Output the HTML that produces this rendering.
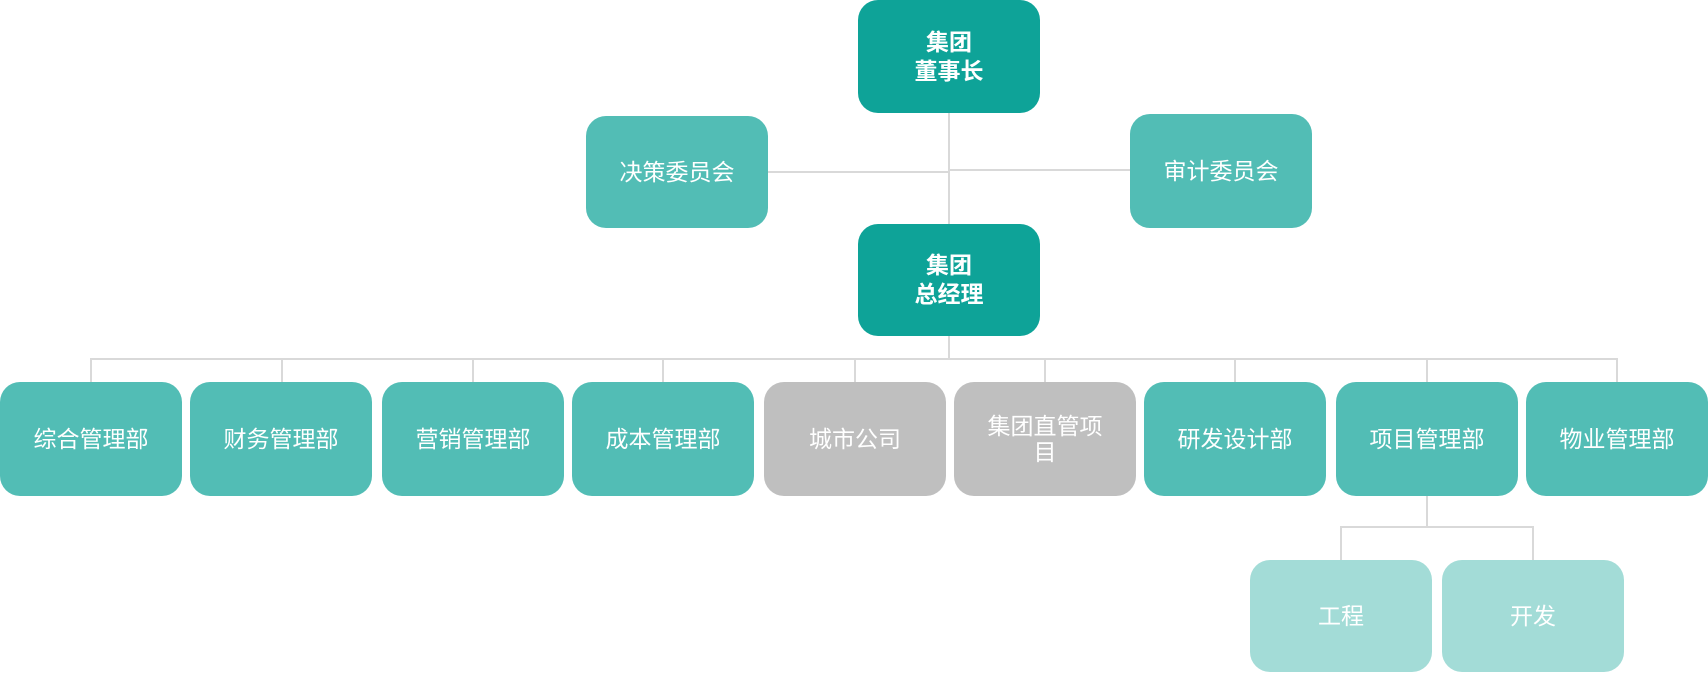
<!DOCTYPE html>
<html><head><meta charset="utf-8"><style>
body{margin:0;width:1708px;height:674px;background:#fff;position:relative;overflow:hidden;font-family:"Liberation Sans","Noto Sans CJK SC",sans-serif}
.b{position:absolute;width:182px;border-radius:20px;color:#fff;display:flex;align-items:center;justify-content:center;text-align:center;font-size:23px;line-height:26px;box-sizing:border-box;padding:0 12px}
.d{background:#0ea398;font-weight:bold;height:113px;line-height:29px}
.m{background:#52bdb5;height:114px}
.g{background:#bfbfbf;height:114px}
.l{background:#a3dcd7;height:112px}
.h{position:absolute;background:#d9d9d9;height:2px}
.v{position:absolute;background:#d9d9d9;width:2px}
</style></head><body>
<div class="v" style="left:948px;top:113px;height:111px"></div>
<div class="h" style="left:768px;top:171px;width:181px"></div>
<div class="h" style="left:949px;top:169px;width:181px"></div>
<div class="v" style="left:948px;top:336px;height:23px"></div>
<div class="h" style="left:90px;top:358px;width:1528px"></div>
<div class="v" style="left:90px;top:358px;height:24px"></div>
<div class="v" style="left:281px;top:358px;height:24px"></div>
<div class="v" style="left:472px;top:358px;height:24px"></div>
<div class="v" style="left:662px;top:358px;height:24px"></div>
<div class="v" style="left:854px;top:358px;height:24px"></div>
<div class="v" style="left:1044px;top:358px;height:24px"></div>
<div class="v" style="left:1234px;top:358px;height:24px"></div>
<div class="v" style="left:1426px;top:358px;height:24px"></div>
<div class="v" style="left:1616px;top:358px;height:24px"></div>
<div class="v" style="left:1426px;top:496px;height:31px"></div>
<div class="h" style="left:1340px;top:526px;width:194px"></div>
<div class="v" style="left:1340px;top:526px;height:34px"></div>
<div class="v" style="left:1532px;top:526px;height:34px"></div>

<div class="b d" style="left:858px;top:0">集团<br>董事长</div>
<div class="b m" style="left:586px;top:116px;height:112px">决策委员会</div>
<div class="b m" style="left:1130px;top:114px;height:114px">审计委员会</div>
<div class="b d" style="left:858px;top:224px;height:112px">集团<br>总经理</div>

<div class="b m" style="left:0;top:382px">综合管理部</div>
<div class="b m" style="left:190px;top:382px">财务管理部</div>
<div class="b m" style="left:382px;top:382px">营销管理部</div>
<div class="b m" style="left:572px;top:382px">成本管理部</div>
<div class="b g" style="left:764px;top:382px">城市公司</div>
<div class="b g" style="left:954px;top:382px;padding:0 30px">集团直管项目</div>
<div class="b m" style="left:1144px;top:382px">研发设计部</div>
<div class="b m" style="left:1336px;top:382px">项目管理部</div>
<div class="b m" style="left:1526px;top:382px">物业管理部</div>

<div class="b l" style="left:1250px;top:560px">工程</div>
<div class="b l" style="left:1442px;top:560px">开发</div>
</body></html>
